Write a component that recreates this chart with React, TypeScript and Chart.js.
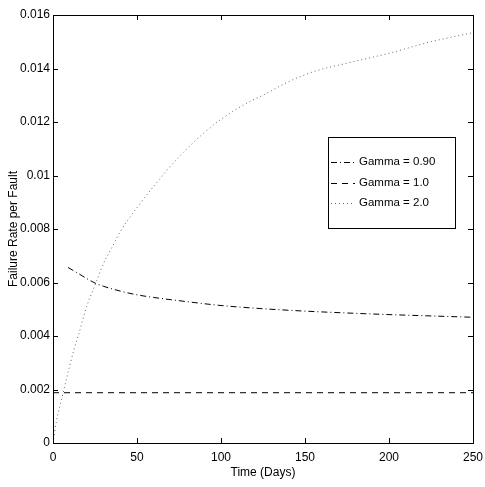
import React, { useEffect, useRef } from "react";
import { Chart, registerables } from "chart.js";

Chart.register(...registerables);

const timeG09 = [9, 15, 20, 25, 30, 40, 50, 60, 75, 100, 125, 150, 175, 200, 225, 250];
const rateG09 = [0.00656, 0.00634, 0.00615, 0.00598, 0.00586, 0.00568, 0.00554, 0.00544, 0.00532, 0.00514, 0.00502, 0.00493, 0.00486, 0.0048, 0.00475, 0.0047];

const timeG10 = [0, 250];
const rateG10 = [0.00188, 0.00188];

const timeG20 = [0, 2, 5, 8, 10, 12.5, 15, 20, 25, 30, 35, 40, 50, 60, 75, 90, 100, 117, 125, 140, 155, 175, 200, 225, 250];
const rateG20 = [0, 0.0008, 0.0016, 0.0024, 0.0029, 0.0035, 0.004, 0.0051, 0.0059, 0.0067, 0.0073, 0.0079, 0.0088, 0.0096, 0.0107, 0.0116, 0.0121, 0.01276, 0.013, 0.0135, 0.01388, 0.0142, 0.01457, 0.015, 0.01534];

const seriesLabels = ["Gamma = 0.90", "Gamma = 1.0", "Gamma = 2.0"];
const xTicks = [0, 50, 100, 150, 200, 250];
const yTicks = [0, 0.002, 0.004, 0.006, 0.008, 0.01, 0.012, 0.014, 0.016];

const FONT = "Liberation Sans, Arial, Helvetica, sans-serif";
const dashes = [[6, 3, 1, 3], [6, 5], [1, 3]];
const colors = ["#000", "#000", "#666"];

const toXY = (xs: number[], ys: number[]) => xs.map((x, i) => ({ x, y: ys[i] }));

const framePlugin = {
  id: "frame",
  afterDraw(chart: any) {
    const { ctx, chartArea: a, scales } = chart;
    ctx.save();
    ctx.strokeStyle = "#000";
    ctx.lineWidth = 1;
    ctx.setLineDash([]);
    ctx.strokeRect(Math.round(a.left) + 0.5, Math.round(a.top) + 0.5, Math.round(a.right - a.left), Math.round(a.bottom - a.top));
    const tl = 5;
    ctx.beginPath();
    xTicks.forEach((v) => {
      const px = Math.round(scales.x.getPixelForValue(v)) + 0.5;
      ctx.moveTo(px, a.bottom);
      ctx.lineTo(px, a.bottom - tl);
      ctx.moveTo(px, a.top);
      ctx.lineTo(px, a.top + tl);
    });
    yTicks.forEach((v) => {
      const py = Math.round(scales.y.getPixelForValue(v)) + 0.5;
      ctx.moveTo(a.left, py);
      ctx.lineTo(a.left + tl, py);
      ctx.moveTo(a.right, py);
      ctx.lineTo(a.right - tl, py);
    });
    ctx.stroke();

    // legend
    const lx = 328, ly = 137, lw = 127, lh = 91;
    ctx.fillStyle = "#fff";
    ctx.fillRect(lx, ly, lw, lh);
    ctx.strokeRect(lx + 0.5, ly + 0.5, lw, lh);
    ctx.font = `11.5px ${FONT}`;
    ctx.textBaseline = "middle";
    ctx.textAlign = "left";
    const rows = [162, 183, 203];
    seriesLabels.forEach((lab, i) => {
      ctx.strokeStyle = colors[i];
      ctx.setLineDash(dashes[i]);
      ctx.beginPath();
      ctx.moveTo(331, rows[i] + 0.5);
      ctx.lineTo(355, rows[i] + 0.5);
      ctx.stroke();
      ctx.fillStyle = "#000";
      ctx.fillText(lab, 359, rows[i]);
    });
    ctx.restore();
  },
};

export default function App() {
  const ref = useRef<HTMLCanvasElement>(null);
  useEffect(() => {
    if (!ref.current) return;
    const chart = new Chart(ref.current, {
      type: "line",
      data: {
        datasets: [
          { label: seriesLabels[0], data: toXY(timeG09, rateG09), borderColor: colors[0], borderDash: dashes[0], borderWidth: 1, pointRadius: 0, cubicInterpolationMode: "monotone" },
          { label: seriesLabels[1], data: toXY(timeG10, rateG10), borderColor: colors[1], borderDash: dashes[1], borderWidth: 1, pointRadius: 0 },
          { label: seriesLabels[2], data: toXY(timeG20, rateG20), borderColor: colors[2], borderDash: dashes[2], borderWidth: 1, pointRadius: 0, cubicInterpolationMode: "monotone" },
        ],
      },
      options: {
        responsive: false,
        animation: false,
        layout: { padding: { top: 15, right: 12, left: 0, bottom: 0 } },
        plugins: { legend: { display: false }, tooltip: { enabled: false } },
        scales: {
          x: {
            type: "linear",
            min: 0,
            max: 250,
            afterBuildTicks: (s: any) => { s.ticks = xTicks.map((v) => ({ value: v })); },
            afterFit: (s: any) => { s.height = 44; s.paddingLeft = 0; s.paddingRight = 0; },
            grid: { display: false, drawTicks: false },
            border: { display: false },
            ticks: { color: "#000", font: { family: FONT, size: 12 }, padding: 7, maxRotation: 0 },
            title: { display: true, text: "Time (Days)", color: "#000", font: { family: FONT, size: 12 }, padding: { top: 0, bottom: 7 } },
          },
          y: {
            type: "linear",
            min: 0,
            max: 0.016,
            afterBuildTicks: (s: any) => { s.ticks = yTicks.map((v) => ({ value: v })); },
            afterFit: (s: any) => { s.width = 53; s.paddingTop = 0; s.paddingBottom = 0; },
            grid: { display: false, drawTicks: false },
            border: { display: false },
            ticks: { color: "#000", font: { family: FONT, size: 12 }, padding: 3, callback: (v: any) => String(Number(Number(v).toFixed(3))) },
            title: { display: true, text: "Failure Rate per Fault", color: "#000", font: { family: FONT, size: 12 }, padding: { top: 6, bottom: 0 } },
          },
        },
      },
      plugins: [framePlugin],
    });
    return () => chart.destroy();
  }, []);
  return (
    <div style={{ position: "absolute", left: 0, top: 0, width: 485, height: 487, background: "#fff" }}>
      <canvas ref={ref} width={485} height={487} style={{ width: 485, height: 487 }} />
    </div>
  );
}
